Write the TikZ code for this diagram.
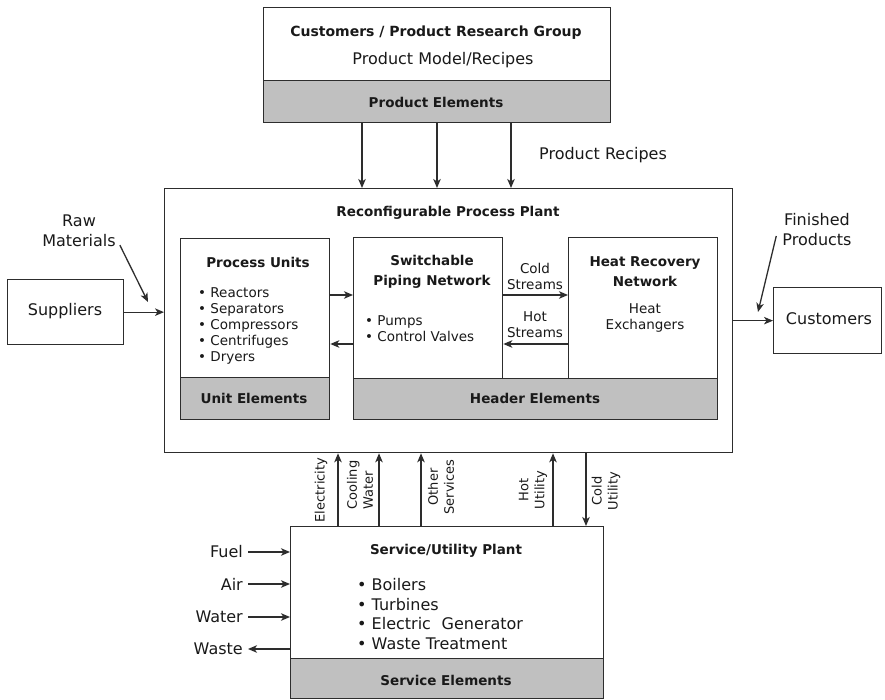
\documentclass[tikz,border=0pt]{standalone}
\usepackage{fontspec}
\setmainfont{DejaVu Sans}
\usetikzlibrary{arrows.meta,calc}
\definecolor{ink}{RGB}{25,25,25}
\definecolor{edge}{RGB}{45,45,45}
\definecolor{band}{RGB}{192,192,192}
\tikzset{
  box/.style={draw=edge, line width=1.3pt, fill=white, inner sep=0pt, anchor=north west},
  bandbox/.style={box, fill=band},
  arr/.style={draw=edge, line width=1.3pt, -{Stealth[length=9pt,width=7.5pt,inset=2.5pt]}},
  hd/.style={font=\fontsize{13.5}{20}\selectfont\bfseries, text=ink, align=center, inner sep=0pt},
  txt/.style={font=\fontsize{16}{20}\selectfont, text=ink, align=center, inner sep=0pt},
  sm/.style={font=\fontsize{13.5}{16}\selectfont, text=ink, align=center, inner sep=0pt},
  vl/.style={font=\fontsize{13}{16}\selectfont, text=ink, align=center, inner sep=0pt, rotate=90},
}
\begin{document}
\begin{tikzpicture}[x=1pt,y=-1pt]
\useasboundingbox (0,0) rectangle (885,700);

% product side
\node[box, minimum width=347pt, minimum height=73pt] (prod) at (263,7) {};
\node[bandbox, minimum width=347pt, minimum height=42pt] (prodel) at (263,80) {};
\node[hd, font=\fontsize{14}{20}\selectfont\bfseries] (prodtitle) at (436,33) {Customers / Product Research Group};
\node[txt] (prodmodel) at (443,60) {Product Model/Recipes};
\node[hd] (prodeltxt) at (436,102) {Product Elements};

% process plant
\node[box, minimum width=568pt, minimum height=264pt] (plant) at (164,188) {};
\node[hd] (planttitle) at (448,213) {Reconfigurable Process Plant};

\node[box, minimum width=149pt, minimum height=139pt] (units) at (180,238) {};
\node[bandbox, minimum width=149pt, minimum height=42pt] (unitel) at (180,377) {};
\node[hd] (unitstitle) at (258,262) {Process Units};
\node[sm, align=left, anchor=west] (unitslist) at (198,326)
  {• Reactors\\• Separators\\• Compressors\\• Centrifuges\\• Dryers};
\node[hd] (uniteltxt) at (254,398) {Unit Elements};

\node[box, minimum width=149pt, minimum height=141pt] (pipe) at (353,237) {};
\node[box, minimum width=149pt, minimum height=141pt] (heat) at (568,237) {};
\node[bandbox, minimum width=364pt, minimum height=41pt] (header) at (353,378) {};
\node[hd] (pipetitle) at (432,272) {Switchable\\Piping Network};
\node[sm, align=left, anchor=west] (pipelist) at (365,329) {• Pumps\\• Control Valves};
\node[hd] (heattitle) at (645,272) {Heat Recovery\\Network};
\node[sm] (heatlist) at (645,318) {Heat\\Exchangers};
\node[hd] (headertxt) at (535,398) {Header Elements};

\node[sm] (coldlbl) at (535,276) {Cold\\Streams};
\node[sm] (hotlbl) at (535,325) {Hot\\Streams};

% suppliers and customers
\node[box, minimum width=116pt, minimum height=65pt] (suppliers) at (7,279) {};
\node[txt] (suptxt) at (65,311) {Suppliers};
\node[box, minimum width=108pt, minimum height=66pt] (customers) at (773,287) {};
\node[txt] (custtxt) at (829,319) {Customers};

\node[txt] (raw) at (79,231) {Raw\\Materials};
\node[txt] (fin) at (817,230) {Finished\\Products};
\node[txt] (recipes) at (603,155) {Product Recipes};

% service / utility plant
\node[box, minimum width=313pt, minimum height=132pt] (service) at (290,526) {};
\node[bandbox, minimum width=313pt, minimum height=40pt] (servel) at (290,658) {};
\node[hd] (servtitle) at (446,551) {Service/Utility Plant};
\node[txt, align=left, anchor=west, font=\fontsize{16}{19.5}\selectfont] (servlist) at (357,614)
  {• Boilers\\• Turbines\\• Electric\hspace{0.35em} Generator\\• Waste Treatment};
\node[hd] (serveltxt) at (446,680) {Service Elements};

\node[txt, anchor=east] (fuel) at (243,552) {Fuel};
\node[txt, anchor=east] (air) at (243,584) {Air};
\node[txt, anchor=east] (water) at (243,617) {Water};
\node[txt, anchor=east] (waste) at (243,649) {Waste};

\node[vl] (elec) at (321,490) {Electricity};
\node[vl, align=left] (cool) at (360,485) {Cooling\\Water};
\node[vl] (other) at (441,487) {Other\\Services};
\node[vl] (hotu) at (533,490) {Hot\\Utility};
\node[vl] (coldu) at (606,491) {Cold\\Utility};

% connector positions
\coordinate (xa) at (362,0);
\coordinate (xb) at (437,0);
\coordinate (xc) at (511,0);
\coordinate (ya) at (0,295);
\coordinate (yb) at (0,344);
\coordinate (xe) at (338,0);
\coordinate (xw) at (379,0);
\coordinate (xo) at (421,0);
\coordinate (xh) at (553,0);
\coordinate (xk) at (586,0);
\coordinate (rawtip) at (148,302);
\coordinate (fintip) at (758,312);

% connectors
\draw[arr] (prodel.south -| xa) -- (plant.north -| xa);
\draw[arr] (prodel.south -| xb) -- (plant.north -| xb);
\draw[arr] (prodel.south -| xc) -- (plant.north -| xc);

\draw[arr] (suppliers.east) -- (suppliers.east -| plant.west);
\draw[arr] (customers.west -| plant.east) -- (customers.west);
\draw[arr] ([xshift=4pt,yshift=2pt]raw.south east) -- (rawtip);
\draw[arr] ([xshift=-6pt,yshift=-6pt]fin.west) -- (fintip);

\draw[arr] (units.east |- ya) -- (pipe.west |- ya);
\draw[arr] (pipe.west |- yb) -- (units.east |- yb);
\draw[arr] (pipe.east |- ya) -- (heat.west |- ya);
\draw[arr] (heat.west |- yb) -- (pipe.east |- yb);

\draw[arr] (service.north -| xe) -- (plant.south -| xe);
\draw[arr] (service.north -| xw) -- (plant.south -| xw);
\draw[arr] (service.north -| xo) -- (plant.south -| xo);
\draw[arr] (service.north -| xh) -- (plant.south -| xh);
\draw[arr] (plant.south -| xk) -- (service.north -| xk);

\draw[arr] ([xshift=5pt]fuel.east) -- (fuel.east -| service.west);
\draw[arr] ([xshift=5pt]air.east) -- (air.east -| service.west);
\draw[arr] ([xshift=5pt]water.east) -- (water.east -| service.west);
\draw[arr] (waste.east -| service.west) -- ([xshift=5pt]waste.east);
\end{tikzpicture}
\end{document}
